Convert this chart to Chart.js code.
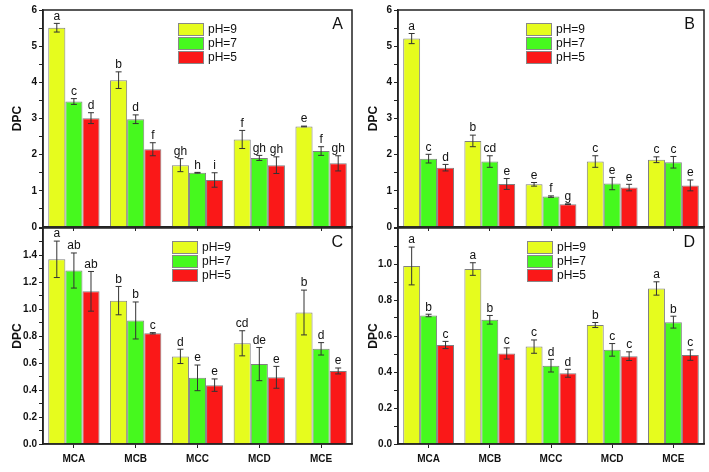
<!DOCTYPE html>
<html>
<head>
<meta charset="utf-8">
<script src="https://cdn.jsdelivr.net/npm/chart.js@4.4.1/dist/chart.umd.min.js"></script>
<style>
  body { margin: 0; background: #fff; }
  #wrap { position: relative; width: 709px; height: 472px; overflow: hidden; }
  canvas { position: absolute; }
</style>
</head>
<body>
<div id="wrap">
  <canvas id="panelA" width="356" height="235" style="left:0;top:0"></canvas>
  <canvas id="panelB" width="353" height="235" style="left:356px;top:0"></canvas>
  <canvas id="panelC" width="356" height="252" style="left:0;top:220px"></canvas>
  <canvas id="panelD" width="353" height="252" style="left:356px;top:220px"></canvas>
</div>
<script>
const categories = ['MCA', 'MCB', 'MCC', 'MCD', 'MCE'];
const seriesLabels = ['pH=9', 'pH=7', 'pH=5'];
const seriesColors = ['#e6fc1e', '#46f91e', '#fa1818'];

// Panel A
const aPh9 = [5.51, 4.06, 1.71, 2.42, 2.78];
const aPh7 = [3.47, 2.98, 1.50, 1.91, 2.10];
const aPh5 = [3.01, 2.15, 1.30, 1.71, 1.76];
const aErr9 = [0.12, 0.23, 0.18, 0.25, 0.01];
const aErr7 = [0.08, 0.12, 0.01, 0.07, 0.12];
const aErr5 = [0.15, 0.18, 0.20, 0.23, 0.21];
const aLet9 = ['a', 'b', 'gh', 'f', 'e'];
const aLet7 = ['c', 'd', 'h', 'gh', 'f'];
const aLet5 = ['d', 'f', 'i', 'gh', 'gh'];

// Panel B
const bPh9 = [5.21, 2.38, 1.18, 1.81, 1.86];
const bPh7 = [1.89, 1.81, 0.84, 1.20, 1.79];
const bPh5 = [1.64, 1.19, 0.63, 1.09, 1.15];
const bErr9 = [0.14, 0.16, 0.05, 0.16, 0.08];
const bErr7 = [0.12, 0.16, 0.02, 0.17, 0.16];
const bErr5 = [0.09, 0.15, 0.01, 0.09, 0.15];
const bLet9 = ['a', 'b', 'e', 'c', 'c'];
const bLet7 = ['c', 'cd', 'f', 'e', 'c'];
const bLet5 = ['d', 'e', 'g', 'e', 'e'];

// Panel C
const cPh9 = [1.368, 1.062, 0.649, 0.746, 0.974];
const cPh7 = [1.285, 0.915, 0.490, 0.592, 0.705];
const cPh5 = [1.131, 0.820, 0.436, 0.494, 0.541];
const cErr9 = [0.135, 0.105, 0.053, 0.093, 0.166];
const cErr7 = [0.130, 0.137, 0.095, 0.123, 0.046];
const cErr5 = [0.147, 0.005, 0.046, 0.081, 0.022];
const cLet9 = ['a', 'b', 'd', 'cd', 'b'];
const cLet7 = ['ab', 'b', 'e', 'de', 'd'];
const cLet5 = ['ab', 'c', 'e', 'e', 'e'];

// Panel D
const dPh9 = [0.989, 0.972, 0.541, 0.661, 0.864];
const dPh7 = [0.714, 0.690, 0.435, 0.523, 0.677];
const dPh5 = [0.550, 0.503, 0.393, 0.488, 0.494];
const dErr9 = [0.105, 0.035, 0.037, 0.014, 0.037];
const dErr7 = [0.007, 0.024, 0.035, 0.035, 0.033];
const dErr5 = [0.020, 0.031, 0.022, 0.024, 0.029];
const dLet9 = ['a', 'a', 'c', 'b', 'a'];
const dLet7 = ['b', 'b', 'd', 'c', 'b'];
const dLet5 = ['c', 'c', 'd', 'c', 'c'];

const FONT = '"Liberation Sans", Arial, sans-serif';

// Error bars, letters, frame, legend and panel letter
const panelExtras = {
    id: 'panelExtras',
    afterDatasetsDraw(chart, args, opts) {
        const ctx = chart.ctx;
        const y = chart.scales.y;
        const area = chart.chartArea;
        ctx.save();
        chart.data.datasets.forEach((ds, di) => {
            const meta = chart.getDatasetMeta(di);
            meta.data.forEach((bar, i) => {
                const v = ds.data[i];
                const e = opts.errors[di][i];
                const yTop = y.getPixelForValue(v + e);
                const yBot = y.getPixelForValue(v - e);
                ctx.strokeStyle = '#333';
                ctx.lineWidth = 1;
                ctx.beginPath();
                ctx.moveTo(bar.x, yTop);
                ctx.lineTo(bar.x, yBot);
                ctx.moveTo(bar.x - 3, yTop);
                ctx.lineTo(bar.x + 3, yTop);
                ctx.moveTo(bar.x - 3, yBot);
                ctx.lineTo(bar.x + 3, yBot);
                ctx.stroke();
                ctx.fillStyle = '#111';
                ctx.font = '12px ' + FONT;
                ctx.textAlign = 'center';
                ctx.textBaseline = 'bottom';
                ctx.fillText(opts.letters[di][i], bar.x, yTop - 1);
            });
        });

        // frame
        ctx.strokeStyle = '#222';
        ctx.lineWidth = 1.5;
        ctx.strokeRect(area.left, area.top, area.right - area.left, area.bottom - area.top);

        // legend
        chart.data.datasets.forEach((ds, di) => {
            const bx = area.left + opts.legendX;
            const by = area.top + opts.legendY + di * 14;
            ctx.fillStyle = ds.backgroundColor;
            ctx.fillRect(bx, by, 25, 12);
            ctx.strokeStyle = '#888';
            ctx.lineWidth = 1;
            ctx.strokeRect(bx + 0.5, by + 0.5, 25, 12);
            ctx.fillStyle = '#111';
            ctx.font = '12px ' + FONT;
            ctx.textAlign = 'left';
            ctx.textBaseline = 'middle';
            ctx.fillText(ds.label, bx + 30, by + 7);
        });

        // panel letter
        ctx.fillStyle = '#111';
        ctx.font = '16px ' + FONT;
        ctx.textAlign = 'right';
        ctx.textBaseline = 'middle';
        ctx.fillText(opts.tag, area.right - 9, area.top + 15);
        ctx.restore();
    }
};

const makePanel = (id, cfg) => {
    const ctx = document.getElementById(id).getContext('2d');
    return new Chart(ctx, {
        type: 'bar',
        data: {
            labels: categories,
            datasets: cfg.values.map((vals, i) => ({
                label: seriesLabels[i],
                data: vals,
                backgroundColor: seriesColors[i],
                borderColor: '#808080',
                borderWidth: 1,
                barPercentage: 1,
                categoryPercentage: 0.83
            }))
        },
        options: {
            responsive: false,
            animation: false,
            layout: { padding: cfg.padding },
            plugins: {
                legend: { display: false },
                tooltip: { enabled: false },
                panelExtras: {
                    errors: cfg.errors,
                    letters: cfg.letters,
                    legendX: cfg.legendX,
                    legendY: 13,
                    tag: cfg.tag
                }
            },
            scales: {
                x: {
                    offset: true,
                    grid: { drawOnChartArea: false, offset: false, tickLength: 4, color: '#222', lineWidth: 1 },
                    border: { color: '#222', width: 1.5 },
                    ticks: {
                        display: cfg.showX,
                        color: '#111',
                        font: { family: FONT, size: 10, weight: 'bold' },
                        padding: 5
                    },
                    afterFit: s => { s.height = cfg.xHeight; }
                },
                y: {
                    min: 0,
                    max: cfg.max,
                    grid: { drawOnChartArea: false, tickLength: 4, color: '#222', lineWidth: 1 },
                    border: { color: '#222', width: 1.5 },
                    ticks: {
                        stepSize: cfg.step,
                        autoSkip: false,
                        color: '#111',
                        padding: 2,
                        font: { family: FONT, size: 10, weight: 'bold' },
                        callback: v => cfg.tickLabel(v)
                    },
                    title: {
                        display: true,
                        text: 'DPC',
                        color: '#111',
                        font: { family: FONT, size: 12, weight: 'bold' },
                        padding: { top: 10, bottom: 0 }
                    },
                    afterFit: s => { s.width = cfg.yWidth; }
                }
            }
        },
        plugins: [panelExtras]
    });
};

const wholeLabel = v => (Math.abs(v - Math.round(v)) < 1e-6 ? Math.round(v).toFixed(0) : '');
const tenthLabel = top => v => {
    const k = Math.round(v * 10);
    if (k % 2 !== 0 || k >= top * 10 - 0.5) return '';
    return (k / 10).toFixed(1);
};

makePanel('panelA', {
    values: [aPh9, aPh7, aPh5], errors: [aErr9, aErr7, aErr5], letters: [aLet9, aLet7, aLet5],
    max: 6, step: 0.5, tickLabel: wholeLabel, tag: 'A', legendX: 135,
    padding: { top: 10, right: 4, left: 0, bottom: 0 }, yWidth: 43, xHeight: 8, showX: false
});
makePanel('panelB', {
    values: [bPh9, bPh7, bPh5], errors: [bErr9, bErr7, bErr5], letters: [bLet9, bLet7, bLet5],
    max: 6, step: 0.5, tickLabel: wholeLabel, tag: 'B', legendX: 128,
    padding: { top: 10, right: 5, left: 0, bottom: 0 }, yWidth: 42, xHeight: 8, showX: false
});
makePanel('panelC', {
    values: [cPh9, cPh7, cPh5], errors: [cErr9, cErr7, cErr5], letters: [cLet9, cLet7, cLet5],
    max: 1.6, step: 0.1, tickLabel: tenthLabel(1.6), tag: 'C', legendX: 129,
    padding: { top: 7, right: 4, left: 0, bottom: 0 }, yWidth: 43, xHeight: 28, showX: true
});
makePanel('panelD', {
    values: [dPh9, dPh7, dPh5], errors: [dErr9, dErr7, dErr5], letters: [dLet9, dLet7, dLet5],
    max: 1.2, step: 0.1, tickLabel: tenthLabel(1.2), tag: 'D', legendX: 129,
    padding: { top: 7, right: 5, left: 0, bottom: 0 }, yWidth: 42, xHeight: 28, showX: true
});
</script>
</body>
</html>
